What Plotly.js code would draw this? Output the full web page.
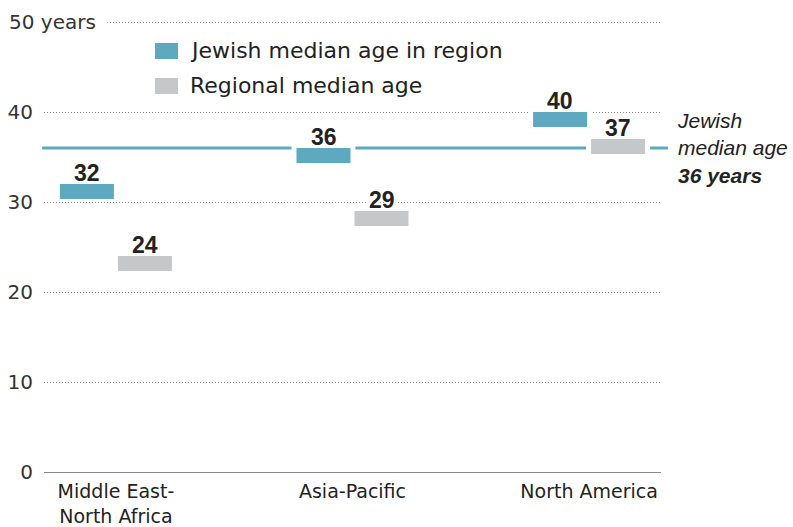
<!DOCTYPE html>
<html>
<head>
<meta charset="utf-8">
<script src="https://cdn.plot.ly/plotly-3.0.1.min.js"></script>
<style>html,body{margin:0;padding:0;background:#fff;}#chart{width:793px;height:527px;}</style>
</head>
<body>
<div id="chart"></div>
<script>
// ---- data ----
const categories = ['Middle East-<br>North Africa', 'Asia-Pacific', 'North America'];
const jewishMedianAge = [32, 36, 40];
const regionalMedianAge = [24, 29, 37];
const overallJewishMedianAge = 36;
const yTickValues = [0, 10, 20, 30, 40, 50];
const yTickLabels = ['0', '10', '20', '30', '40', '50 years'];
const seriesNames = ['Jewish median age in region', 'Regional median age'];

// ---- style ----
const TEAL = '#5fa9c0';
const GRAY = '#c6c7c9';
const TXT = '#222222';
const BAR_W = 0.2283;
const GAP = 0.0169;
const HALO = 0.0211;
const HALO_TOP = 0.3;
const BAR_H = 1.667;
const offJ = -GAP / 2 - BAR_W;
const offR = GAP / 2;
const WHITE_HALO = '4px 0 0 #fff, -4px 0 0 #fff, 3px 0 0 #fff, -3px 0 0 #fff, 2px 0 0 #fff, -2px 0 0 #fff, 1px 0 0 #fff, -1px 0 0 #fff';

function barTrace(vals, off, color, name, halo) {
  const w = halo ? BAR_W + 2 * HALO : BAR_W;
  const o = halo ? off - HALO : off;
  const h = halo ? BAR_H + HALO_TOP : BAR_H;
  return {
    type: 'bar', x: categories, y: vals.map(() => h), base: vals.map(v => v - BAR_H),
    width: vals.map(() => w), offset: vals.map(() => o),
    marker: {color: halo ? '#ffffff' : color, line: {width: 0}},
    name: name, showlegend: false, hoverinfo: 'skip'
  };
}

const traces = [
  barTrace(jewishMedianAge, offJ, TEAL, 'halo1', true),
  barTrace(regionalMedianAge, offR, GRAY, 'halo2', true),
  barTrace(jewishMedianAge, offJ, TEAL, seriesNames[0], false),
  barTrace(regionalMedianAge, offR, GRAY, seriesNames[1], false)
];

const annotations = [];
function valueLabels(vals, off) {
  vals.forEach((v, i) => {
    annotations.push({
      x: i + off + BAR_W / 2, y: v, xref: 'x', yref: 'y', xanchor: 'center', yanchor: 'bottom',
      yshift: -3, text: '<b>' + v + '</b>', showarrow: false, borderpad: 0,
      font: {family: 'Liberation Sans, Arial, sans-serif', size: 23, color: TXT, shadow: WHITE_HALO}
    });
  });
}
valueLabels(jewishMedianAge, offJ);
valueLabels(regionalMedianAge, offR);

// top tick label with white background
annotations.push({
  x: -0.058, y: yTickValues[5], xref: 'paper', yref: 'y', xanchor: 'left', yanchor: 'middle',
  text: yTickLabels[5], showarrow: false, bgcolor: '#ffffff', borderpad: 0, width: 98, align: 'left',
  font: {family: 'DejaVu Sans, sans-serif', size: 20, color: '#333'}
});

// right-side note
annotations.push({
  x: 1.022, y: overallJewishMedianAge, xref: 'paper', yref: 'y', xanchor: 'left', yanchor: 'middle',
  align: 'left', showarrow: false,
  text: '<i>Jewish<br>median age<br><b>' + overallJewishMedianAge + ' years</b></i>',
  font: {family: 'Liberation Sans, Arial, sans-serif', size: 21, color: TXT}
});

// legend text
const k = 450 / 459;
[[0.9356, seriesNames[0]], [0.8578, seriesNames[1]]].forEach(([yy, t]) => {
  annotations.push({
    x: 0.2334, y: yy * k, xref: 'paper', yref: 'paper', xanchor: 'left', yanchor: 'middle',
    text: t, showarrow: false, font: {family: 'DejaVu Sans, sans-serif', size: 22, color: TXT}
  });
});

const shapes = [
  {type: 'line', xref: 'paper', yref: 'y', x0: -0.003, x1: 1.0113,
   y0: overallJewishMedianAge, y1: overallJewishMedianAge, layer: 'below',
   line: {color: TEAL, width: 3}},
  {type: 'rect', xref: 'paper', yref: 'paper', x0: 0.1799, x1: 0.2172, y0: 0.9178 * k, y1: 0.9533 * k,
   fillcolor: TEAL, line: {width: 0}},
  {type: 'rect', xref: 'paper', yref: 'paper', x0: 0.1799, x1: 0.2172, y0: 0.84 * k, y1: 0.8756 * k,
   fillcolor: GRAY, line: {width: 0}}
];

const layout = {
  width: 793, height: 527,
  margin: {l: 44, r: 132, t: 13, b: 55},
  paper_bgcolor: '#ffffff', plot_bgcolor: '#ffffff',
  barmode: 'overlay',
  showlegend: false,
  xaxis: {
    type: 'category', range: [-0.304, 2.304], showgrid: false, zeroline: false,
    showline: true, linecolor: '#888', linewidth: 1.3,
    ticks: 'outside', ticklen: 2, tickcolor: 'rgba(0,0,0,0)',
    tickfont: {family: 'DejaVu Sans, sans-serif', size: 19, color: TXT}
  },
  yaxis: {
    range: [0, 51], tickvals: yTickValues, ticktext: yTickLabels.map((t, i) => i === yTickLabels.length - 1 ? '' : t),
    showgrid: true, gridcolor: '#888', gridwidth: 1, griddash: '1px,2px', zeroline: false, showline: false,
    ticks: 'outside', ticklen: 6, tickcolor: 'rgba(0,0,0,0)',
    tickfont: {family: 'DejaVu Sans, sans-serif', size: 20, color: '#333'}
  },
  annotations: annotations,
  shapes: shapes,
  font: {family: 'DejaVu Sans, sans-serif'}
};

Plotly.newPlot('chart', traces, layout, {staticPlot: true, displayModeBar: false});
</script>
</body>
</html>
